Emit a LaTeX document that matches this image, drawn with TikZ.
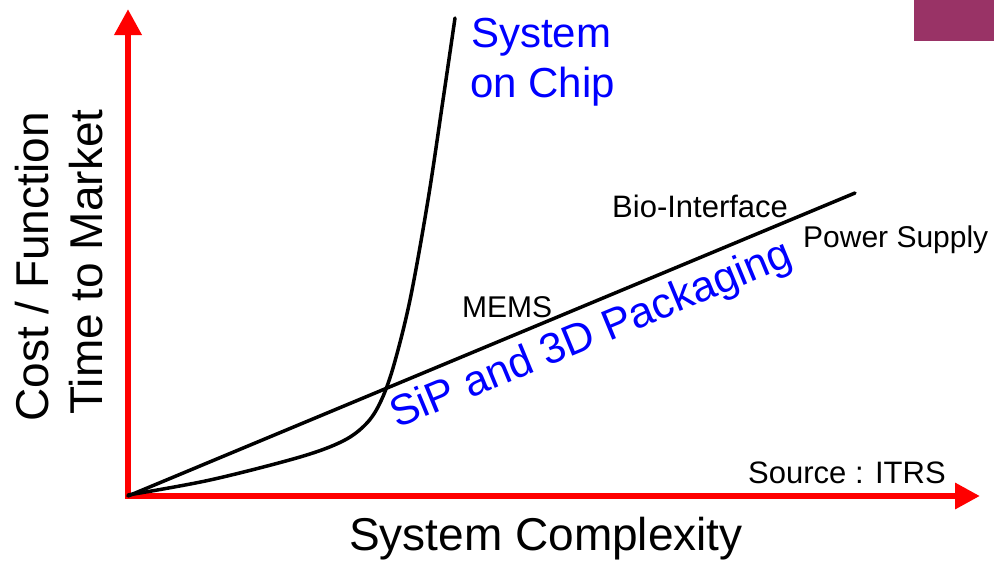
\documentclass[tikz,border=0pt]{standalone}
\usepackage{fontspec}
\setmainfont{Liberation Sans}
\usetikzlibrary{arrows.meta}
\definecolor{accent}{RGB}{153,51,102}
\definecolor{axisred}{RGB}{255,0,0}
\definecolor{labelblue}{RGB}{0,0,255}
\tikzset{
  axisline/.style={draw=axisred, line width=6.5pt, line join=miter,
    {Triangle[length=26pt,width=26pt]}-{Triangle[length=25pt,width=25pt]}},
  trend/.style={draw=black, line width=3.5pt, line cap=round},
  smalltxt/.style={inner sep=0pt, anchor=base west, font=\fontsize{30}{35}\selectfont},
  bigtxt/.style={inner sep=0pt, anchor=base, font=\fontsize{46}{54}\selectfont},
  bluetxt/.style={inner sep=0pt, anchor=base west, text=labelblue, font=\fontsize{42}{50}\selectfont}
}
\begin{document}
\begin{tikzpicture}[x=1pt,y=-1pt]
\useasboundingbox (0,0) rectangle (994,563);
% corner decoration
\fill[accent] (914,0) rectangle (994,41);
% axes
\coordinate (ytip) at (128,9);
\coordinate (origin) at (128,496);
\coordinate (xtip) at (980,496);
\draw[axisline] (ytip) -- (origin) -- (xtip);
% SiP straight line
\coordinate (sipend) at (855,193);
\draw[trend] (origin) -- (sipend);
% SoC curve
\draw[trend] plot[smooth, tension=0.55] coordinates {(128,495) (210,480) (300,457) (343,441) (366,424) (380,403) (393,368) (410,300) (428,200) (443,100) (455,18)};
% texts
\node[bluetxt] (soc1) at (471,47) {System};
\node[bluetxt] (soc2) at (470,97) {on Chip};
\node[bluetxt, rotate=22.5, font=\fontsize{43}{50}\selectfont] (sip) at (397,429) {SiP and 3D Packaging};
\node[smalltxt, font=\fontsize{31}{36}\selectfont] (bio) at (612,217) {Bio-Interface};
\node[smalltxt] (power) at (803,247) {Power Supply};
\node[smalltxt] (mems) at (462,317) {MEMS};
\node[smalltxt, font=\fontsize{31}{36}\selectfont] (src) at (748,483) {Source : ITRS};
\node[bigtxt] (xlab) at (546,550) {System Complexity};
\node[bigtxt, rotate=90] (ylab1) at (48,267) {Cost / Function};
\node[bigtxt, rotate=90] (ylab2) at (102,262) {Time to Market};
\end{tikzpicture}
\end{document}
